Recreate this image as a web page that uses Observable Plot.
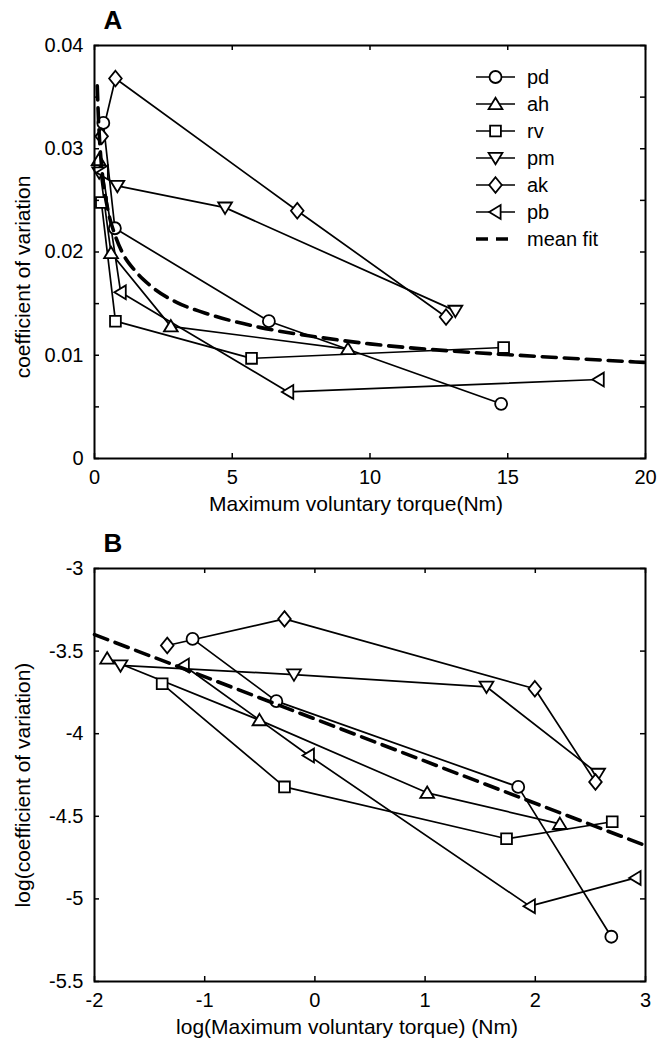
<!DOCTYPE html>
<html><head><meta charset="utf-8">
<script src="https://cdn.jsdelivr.net/npm/d3@7"></script>
<script src="https://cdn.jsdelivr.net/npm/@observablehq/plot@0.6"></script>
<style>body{margin:0;background:#fff;} #chart svg{display:block;}</style>
</head><body><div id="chart"></div>
<script>
// ---------- DATA ----------
const seriesNames = ["pd", "ah", "rv", "pm", "ak", "pb"];

// Panel A: [maximum voluntary torque (Nm), coefficient of variation]
const pdA = [[0.32, 0.0325], [0.74, 0.0223], [6.33, 0.0133], [14.76, 0.0053]];
const ahA = [[0.15, 0.0289], [0.60, 0.0199], [2.77, 0.0128], [9.2, 0.0106]];
const rvA = [[0.25, 0.0248], [0.76, 0.0133], [5.7, 0.0097], [14.85, 0.01075]];
const pmA = [[0.17, 0.0277], [0.83, 0.0264], [4.74, 0.0243], [13.1, 0.0143]];
const akA = [[0.26, 0.0312], [0.76, 0.0368], [7.36, 0.0240], [12.76, 0.0137]];
const pbA = [[0.30, 0.0277], [0.95, 0.0161], [7.03, 0.00645], [18.3, 0.00765]];
const fitA = [[0.1, 0.0361], [0.15, 0.0325], [0.2, 0.0302], [0.3, 0.0272], [0.5, 0.0239],
  [0.75, 0.0216], [1, 0.0200], [1.5, 0.0181], [2, 0.0168], [3, 0.0151], [4, 0.0141],
  [6, 0.0127], [8, 0.0118], [10, 0.0111], [13, 0.0104], [16, 0.0099], [20, 0.0093]];

// Panel B: [log(torque), log(coefficient of variation)]
const pdB = [[-1.11, -3.426], [-0.35, -3.803], [1.845, -4.322], [2.69, -5.229]];
const ahB = [[-1.885, -3.545], [-0.503, -3.918], [1.019, -4.358], [2.223, -4.546]];
const rvB = [[-1.386, -3.698], [-0.276, -4.322], [1.739, -4.636], [2.698, -4.533]];
const pmB = [[-1.764, -3.587], [-0.19, -3.642], [1.557, -3.716], [2.57, -4.243]];
const akB = [[-1.34, -3.466], [-0.276, -3.305], [1.996, -3.728], [2.546, -4.292]];
const pbB = [[-1.19, -3.587], [-0.055, -4.132], [1.95, -5.044], [2.909, -4.873]];
const fitB = [[-2, -3.40], [3, -4.677]];

// Tick values
const aXTicks = [0, 5, 10, 15, 20];
const aYTicks = [0, 0.005, 0.01, 0.015, 0.02, 0.025, 0.03, 0.035, 0.04];
const aYLabels = ["0", "", "0.01", "", "0.02", "", "0.03", "", "0.04"];
const bXTicks = [-2, -1, 0, 1, 2, 3];
const bYTicks = [-5.5, -5, -4.5, -4, -3.5, -3];

// ---------- STYLE ----------
const FONT = "'Liberation Sans', Arial, Helvetica, sans-serif";
const W = 670, H = 523;
const M = {top: 45, right: 25, bottom: 65, left: 94};
const PW = W - M.left - M.right, PH = H - M.top - M.bottom;
const TICK = 5;

function poly(pts) {
  return {draw(ctx, size) {
    const r = Math.sqrt(size / Math.PI);
    ctx.moveTo(pts[0][0] * r, pts[0][1] * r);
    for (let i = 1; i < pts.length; i++) ctx.lineTo(pts[i][0] * r, pts[i][1] * r);
    ctx.closePath();
  }};
}
const symbols = {
  pd: d3.symbolCircle,
  ah: poly([[0, -1.05], [1.15, 0.85], [-1.15, 0.85]]),
  rv: poly([[-0.9, -0.9], [0.9, -0.9], [0.9, 0.9], [-0.9, 0.9]]),
  pm: poly([[0, 1.05], [1.15, -0.85], [-1.15, -0.85]]),
  ak: poly([[0, -1.3], [1.05, 0], [0, 1.3], [-1.05, 0]]),
  pb: poly([[-1.05, 0], [0.85, -1.15], [0.85, 1.15]])
};
const R = 6;
const LW = 1.7, MW = 1.8;

function panel({data, fit, xDomain, yDomain, xTicks, yTicks, yFmt, panelLabel, xLabel, yLabel, xLabelDx, yLabelDy, fitCurve}) {
  const marks = [];
  seriesNames.forEach((s, i) => {
    marks.push(Plot.line(data[i], {x: d => d[0], y: d => d[1], stroke: "black", strokeWidth: LW}));
  });
  seriesNames.forEach((s, i) => {
    marks.push(Plot.dot(data[i], {x: d => d[0], y: d => d[1], r: R, symbol: symbols[s], fill: "white", stroke: "black", strokeWidth: MW}));
  });
  marks.push(Plot.line(fit, {x: d => d[0], y: d => d[1], stroke: "black", strokeWidth: 3.6, strokeDasharray: "14,8", curve: fitCurve}));
  // inward tick marks on all four sides
  marks.push(Plot.tickX(xTicks, {x: d => d, stroke: "black", strokeWidth: 1.5, insetTop: PH - TICK}));
  marks.push(Plot.tickX(xTicks, {x: d => d, stroke: "black", strokeWidth: 1.5, insetBottom: PH - TICK}));
  marks.push(Plot.tickY(yTicks, {y: d => d, stroke: "black", strokeWidth: 1.5, insetRight: PW - TICK}));
  marks.push(Plot.tickY(yTicks, {y: d => d, stroke: "black", strokeWidth: 1.5, insetLeft: PW - TICK}));
  marks.push(Plot.frame({stroke: "black", strokeWidth: 2}));
  // tick labels
  marks.push(Plot.axisX(xTicks, {anchor: "bottom", tickSize: 0, tickPadding: 11, tickFormat: d => String(d), label: null, fontSize: 20}));
  marks.push(Plot.axisY(yTicks, {anchor: "left", tickSize: 0, tickPadding: 11, tickFormat: yFmt, label: null, fontSize: 20}));
  // panel letter and axis titles
  marks.push(Plot.text([panelLabel], {text: d => d, frameAnchor: "top-left", dx: 9, dy: -17, lineAnchor: "bottom", textAnchor: "start", fontSize: 26, fontWeight: "bold"}));
  marks.push(Plot.text([xLabel], {text: d => d, frameAnchor: "bottom", dx: xLabelDx, dy: 46, lineAnchor: "middle", textAnchor: "middle", fontSize: 21}));
  marks.push(Plot.text([yLabel], {text: d => d, frameAnchor: "left", dx: -71, dy: yLabelDy, rotate: -90, lineAnchor: "middle", textAnchor: "middle", fontSize: 21}));
  return Plot.plot({
    width: W, height: H,
    marginTop: M.top, marginRight: M.right, marginBottom: M.bottom, marginLeft: M.left,
    style: {fontFamily: FONT, fontSize: "20px", background: "white", color: "black", overflow: "visible"},
    x: {domain: xDomain},
    y: {domain: yDomain},
    marks
  });
}

const chart = document.getElementById("chart");
const svgA = panel({
  data: [pdA, ahA, rvA, pmA, akA, pbA], fit: fitA,
  xDomain: [0, 20], yDomain: [0, 0.04], xTicks: aXTicks, yTicks: aYTicks,
  yFmt: d => aYLabels[aYTicks.indexOf(d)],
  panelLabel: "A", xLabel: "Maximum voluntary torque(Nm)", yLabel: "coefficient of variation",
  xLabelDx: -14, yLabelDy: 25, fitCurve: "monotone-x"
});
const svgB = panel({
  data: [pdB, ahB, rvB, pmB, akB, pbB], fit: fitB,
  xDomain: [-2, 3], yDomain: [-5.5, -3], xTicks: bXTicks, yTicks: bYTicks,
  yFmt: d => String(d),
  panelLabel: "B", xLabel: "log(Maximum voluntary torque) (Nm)", yLabel: "log(coefficient of variation)",
  xLabelDx: -23, yLabelDy: 10, fitCurve: "linear"
});
chart.appendChild(svgA);
chart.appendChild(svgB);

// ---------- LEGEND (inside panel A, top right) ----------
const legendItems = [...seriesNames, "mean fit"];
const lg = d3.select(svgA).append("g").attr("font-family", FONT).attr("font-size", 20).attr("text-anchor", "start");
const lx0 = 476, lx1 = 515, ltx = 527, ly0 = 77, ldy = 27;
legendItems.forEach((name, i) => {
  const y = ly0 + i * ldy;
  if (name === "mean fit") {
    lg.append("line").attr("x1", lx0).attr("x2", lx1).attr("y1", y).attr("y2", y)
      .attr("stroke", "black").attr("stroke-width", 3.6).attr("stroke-dasharray", "12,8");
  } else {
    lg.append("line").attr("x1", lx0).attr("x2", lx1).attr("y1", y).attr("y2", y)
      .attr("stroke", "black").attr("stroke-width", LW);
    lg.append("path").attr("transform", `translate(${(lx0 + lx1) / 2},${y})`)
      .attr("d", d3.symbol().type(symbols[name]).size(Math.PI * R * R)())
      .attr("fill", "white").attr("stroke", "black").attr("stroke-width", MW);
  }
  lg.append("text").attr("x", ltx).attr("y", y).attr("dy", "0.35em").attr("text-anchor", "start").text(name);
});
</script>
</body></html>
